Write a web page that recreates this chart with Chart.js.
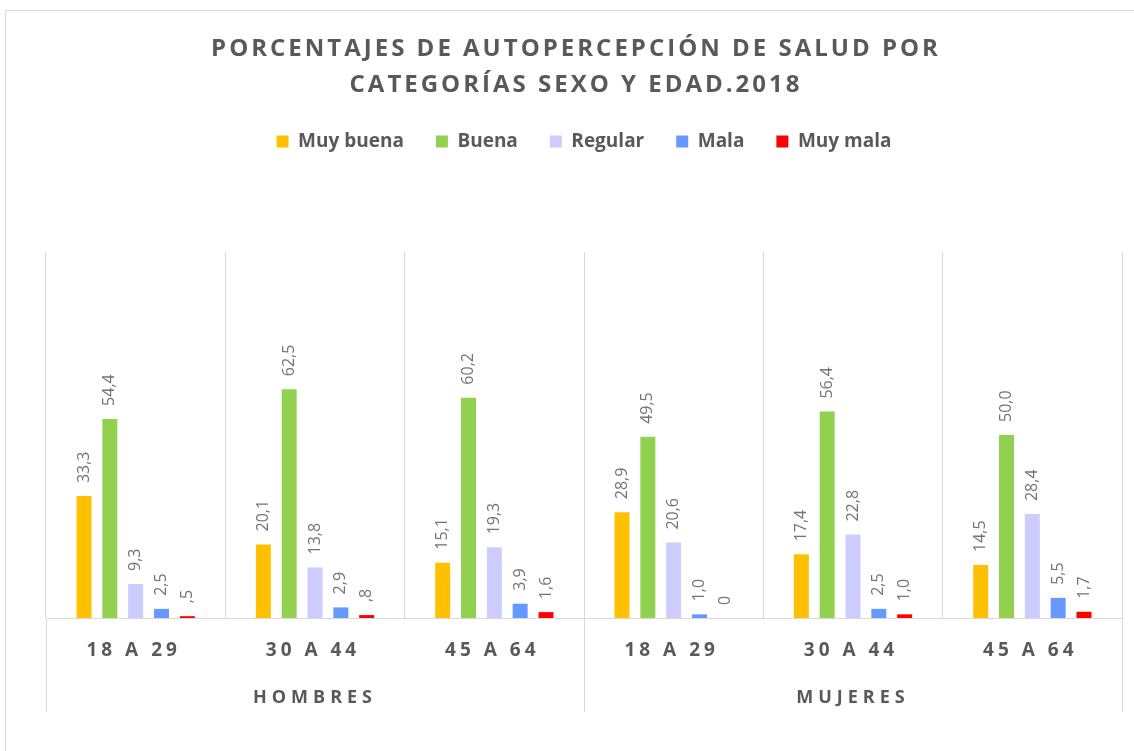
<!DOCTYPE html>
<html>
<head>
<meta charset="utf-8">
<script src="https://cdn.jsdelivr.net/npm/chart.js@4.4.0/dist/chart.umd.min.js"></script>
<style>
html, body { margin: 0; padding: 0; background: #ffffff; }
#wrap { width: 1134px; height: 751px; position: relative; }
</style>
</head>
<body>
<div id="wrap"><canvas id="saludChart"></canvas></div>
<script>
// data
var titleLines = ['PORCENTAJES DE AUTOPERCEPCIÓN DE SALUD POR', 'CATEGORÍAS SEXO Y EDAD.2018'];
var categories = ['18 A 29', '30 A 44', '45 A 64', '18 A 29', '30 A 44', '45 A 64'];
var groups = ['HOMBRES', 'MUJERES'];
var seriesNames = ['Muy buena', 'Buena', 'Regular', 'Mala', 'Muy mala'];
var muyBuena = [33.3, 20.1, 15.1, 28.9, 17.4, 14.5];
var buena = [54.4, 62.5, 60.2, 49.5, 56.4, 50.0];
var regular = [9.3, 13.8, 19.3, 20.6, 22.8, 28.4];
var mala = [2.5, 2.9, 3.9, 1.0, 2.5, 5.5];
var muyMala = [0.5, 0.8, 1.6, 0, 1.0, 1.7];
var seriesColors = ['#FFC000', '#92D050', '#CCCCFF', '#6699FF', '#FF0000'];
var yRange = [0, 100];

var textGray = '#595959';
var lineGray = '#d9d9d9';

// 33.3 -> "33,3", 0.5 -> ",5", 0 -> "0"
function fmt(v) {
    if (v === 0) return '0';
    return v.toFixed(1).replace('.', ',').replace(/^0,/, ',');
}

var decorPlugin = {
    id: 'decor',
    beforeDraw: function(chart) {
        var ctx = chart.ctx;
        ctx.save();
        ctx.strokeStyle = lineGray;
        ctx.lineWidth = 1;
        ctx.strokeRect(5.5, 10.5, 1300, 900);
        ctx.restore();
    },
    afterDatasetsDraw: function(chart) {
        var ctx = chart.ctx;
        ctx.save();
        ctx.fillStyle = '#737373';
        ctx.font = '16px "Open Sans"';
        ctx.textAlign = 'left';
        ctx.textBaseline = 'middle';
        chart.data.datasets.forEach(function(ds, i) {
            var meta = chart.getDatasetMeta(i);
            meta.data.forEach(function(bar, j) {
                ctx.save();
                ctx.translate(bar.x, bar.y - 13);
                ctx.rotate(-Math.PI / 2);
                ctx.fillText(fmt(ds.data[j]), 0, 0);
                ctx.restore();
            });
        });
        ctx.restore();
    },
    afterDraw: function(chart) {
        var ctx = chart.ctx;
        var xs = chart.scales.x;
        var area = chart.chartArea;
        ctx.save();
        ctx.fillStyle = textGray;
        ctx.textAlign = 'center';
        ctx.textBaseline = 'middle';

        // title
        ctx.font = 'bold 24px "Open Sans"';
        ctx.letterSpacing = '3px';
        titleLines.forEach(function(line, i) {
            ctx.fillText(line, 576, 49 + i * 36);
        });

        // age labels
        ctx.font = 'bold 19px "Open Sans"';
        ctx.letterSpacing = '4px';
        categories.forEach(function(c, i) {
            ctx.fillText(c, xs.getPixelForValue(i) - 2, area.bottom + 33);
        });

        // group labels + long separators
        var half = categories.length / 2;
        var edges = [xs.left, (xs.getPixelForValue(half - 1) + xs.getPixelForValue(half)) / 2, xs.right];
        ctx.strokeStyle = lineGray;
        ctx.lineWidth = 1;
        edges.forEach(function(x) {
            x = Math.round(x) + 0.5;
            ctx.beginPath();
            ctx.moveTo(x, area.bottom);
            ctx.lineTo(x, area.bottom + 94);
            ctx.stroke();
        });
        ctx.font = 'bold 18px "Open Sans"';
        ctx.letterSpacing = '5px';
        groups.forEach(function(g, i) {
            ctx.fillText(g, (edges[i] + edges[i + 1]) / 2, area.bottom + 80);
        });
        ctx.restore();
    }
};

var seriesData = [muyBuena, buena, regular, mala, muyMala];
var datasets = seriesNames.map(function(name, i) {
    return {
        label: name,
        data: seriesData[i],
        backgroundColor: seriesColors[i],
        borderWidth: 0,
        categoryPercentage: 0.72,
        barPercentage: 0.58
    };
});

var ctx = document.getElementById('saludChart');
var saludChart = new Chart(ctx, {
    type: 'bar',
    data: {
        labels: categories,
        datasets: datasets
    },
    options: {
        responsive: true,
        maintainAspectRatio: false,
        animation: false,
        layout: {
            padding: { top: 100, left: 46, right: 12, bottom: 133 }
        },
        plugins: {
            legend: {
                display: true,
                position: 'top',
                labels: {
                    color: textGray,
                    font: { family: 'Open Sans', size: 19, weight: 'bold' },
                    boxWidth: 12,
                    boxHeight: 12,
                    padding: 32
                }
            },
            // empty subtitle under the legend, used as a spacer
            subtitle: {
                display: true,
                text: '',
                weight: 500,
                font: { size: 10 },
                padding: { top: 0, bottom: 79 }
            },
            tooltip: { enabled: false }
        },
        scales: {
            x: {
                ticks: { display: false },
                grid: { offset: true, color: lineGray, drawTicks: false },
                border: { display: true, color: lineGray }
            },
            y: {
                display: false,
                min: yRange[0],
                max: yRange[1]
            }
        }
    },
    plugins: [decorPlugin]
});
</script>
</body>
</html>
